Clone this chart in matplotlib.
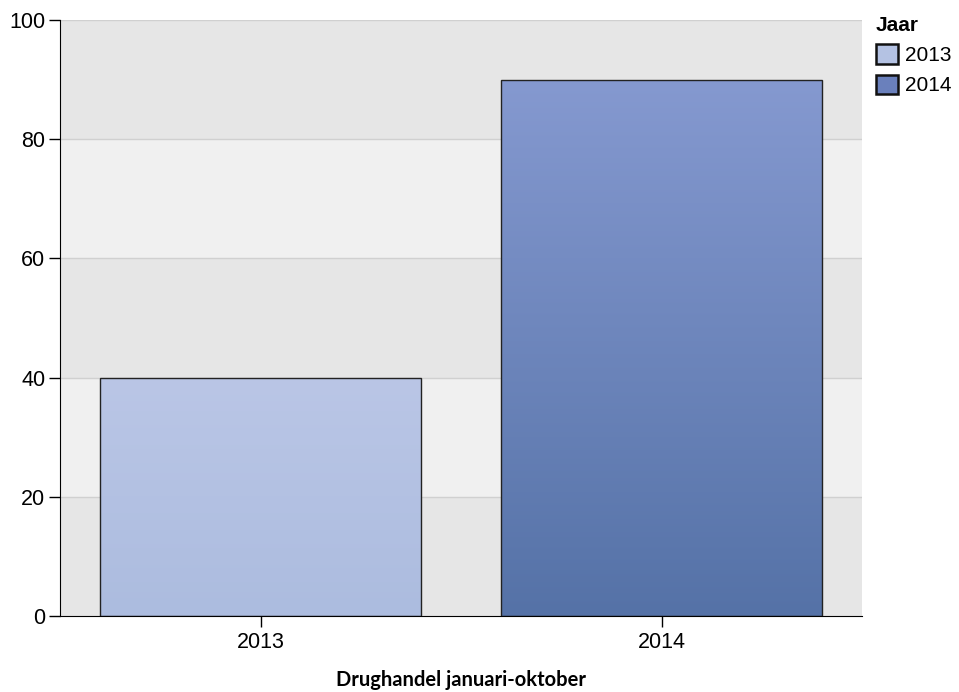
import numpy as np
import matplotlib
matplotlib.use("Agg")
from matplotlib import pyplot as plt
from matplotlib.colors import LinearSegmentedColormap
from matplotlib.patches import Patch

categories = ["2013", "2014"]
values = [40, 90]
top_colors = ["#bac6e6", "#8599d0"]
bottom_colors = ["#acbcdf", "#5572a7"]
legend_colors = ["#b4c2e3", "#6a80bc"]
legend_title = "Jaar"
xlabel = "Drughandel januari-oktober"

plt.rcParams['font.family'] = ['Liberation Sans', 'DejaVu Sans']

fig = plt.figure(figsize=(9.59, 6.92), dpi=100)
ax = fig.add_axes([60 / 959, 1 - 616 / 692, 802 / 959, 596 / 692])

# alternating background bands
for i, y0 in enumerate(range(0, 100, 20)):
    col = "#e6e6e6" if i % 2 == 0 else "#f0f0f0"
    ax.axhspan(y0, y0 + 20, color=col, zorder=0, lw=0)
for y in range(20, 101, 20):
    ax.axhline(y, color="#d0d0d0", lw=1, zorder=0.5)

x = np.arange(len(categories))
bars = ax.bar(x, values, width=0.8, facecolor="none", edgecolor="#222222", lw=1, zorder=3)

grad = np.linspace(0, 1, 256).reshape(-1, 1)
for bar, ctop, cbot in zip(bars, top_colors, bottom_colors):
    cmap = LinearSegmentedColormap.from_list("g", [ctop, cbot])
    bx, bw, bh = bar.get_x(), bar.get_width(), bar.get_height()
    im = ax.imshow(grad, cmap=cmap, aspect="auto", extent=(bx, bx + bw, 0, bh),
                   origin="upper", zorder=2)
    im.set_clip_path(bar)

ax.set_xlim(-0.5, len(categories) - 0.5)
ax.set_ylim(0, 100)
ax.set_yticks(range(0, 101, 20))
ax.set_xticks(x)
ax.set_xticklabels(categories)
ax.tick_params(axis="both", labelsize=15.5, color="black", length=8, width=1)
ax.tick_params(axis="y", pad=2.5)
ax.tick_params(axis="x", pad=3.5)

for s in ["top", "right"]:
    ax.spines[s].set_visible(False)
ax.spines["left"].set_color("black")
ax.spines["bottom"].set_color("black")

ax.set_xlabel(xlabel, fontsize=14.5, fontweight="bold", family=["Lato", "DejaVu Sans"],
              labelpad=12)

handles = [Patch(facecolor=c, edgecolor="#111111", lw=1.8) for c in legend_colors]
leg = fig.legend(handles, categories, title=legend_title, loc="upper left",
                 bbox_to_anchor=(876 / 959, 1 - 16 / 692), frameon=False,
                 fontsize=15, handlelength=1.05, handleheight=1.05,
                 handletextpad=0.35, labelspacing=0.45, borderaxespad=0,
                 borderpad=0)
leg.get_title().set_fontweight("bold")
leg.get_title().set_fontsize(15)
leg._legend_box.align = "left"

fig.savefig("out.png", dpi=100)
